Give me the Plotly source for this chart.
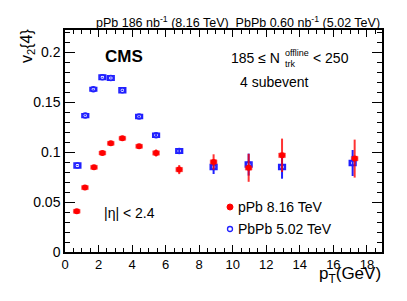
import plotly.graph_objects as go

# ---- data ----
ppb_pt = [0.70, 1.19, 1.73, 2.23, 2.73, 3.42, 4.42, 5.43, 6.81, 8.86, 10.95, 12.94, 17.27]
ppb_v2 = [0.0407, 0.0644, 0.0847, 0.0990, 0.1087, 0.1137, 0.1057, 0.0990, 0.0824, 0.0900, 0.0842, 0.0967, 0.0934]
ppb_stat = [0.0008, 0.0008, 0.0008, 0.0008, 0.0009, 0.0010, 0.0015, 0.0035, 0.0045, 0.0077, 0.0140, 0.0167, 0.0190]
ppb_sys = [0.0020, 0.0020, 0.0020, 0.0020, 0.0020, 0.0020, 0.0020, 0.0022, 0.0022, 0.0022, 0.0023, 0.0023, 0.0023]

pbpb_pt = [0.74, 1.21, 1.69, 2.23, 2.73, 3.42, 4.42, 5.43, 6.81, 8.86, 10.95, 12.94, 17.15]
pbpb_v2 = [0.0864, 0.1364, 0.1627, 0.1747, 0.1740, 0.1617, 0.1354, 0.1167, 0.1010, 0.0850, 0.0874, 0.0850, 0.0890]
pbpb_stat = [0.0005, 0.0005, 0.0005, 0.0005, 0.0006, 0.0008, 0.0010, 0.0012, 0.0020, 0.0070, 0.0110, 0.0117, 0.0130]
pbpb_sys = [0.0025, 0.0018, 0.0018, 0.0022, 0.0022, 0.0025, 0.0020, 0.0020, 0.0022, 0.0025, 0.0025, 0.0025, 0.0025]

box_width = 0.40
RED = "#ff0000"
BLUE = "#2020ff"
FONT = "Liberation Sans, Arial, sans-serif"

W, H = 407, 301
L, R, T, B = 65, 25, 30, 49
PW, PH = W - L - R, H - T - B


def px(x):
    return (x - L) / PW


def py(y):
    return (H - B - y) / PH


fig = go.Figure()

# systematic boxes
fig.add_trace(go.Bar(
    x=pbpb_pt, y=[2 * s for s in pbpb_sys], base=[v - s for v, s in zip(pbpb_v2, pbpb_sys)],
    width=box_width, marker=dict(color="rgba(0,0,0,0)", line=dict(color=BLUE, width=1.5)),
    showlegend=False, hoverinfo="skip"))
fig.add_trace(go.Bar(
    x=ppb_pt, y=[2 * s for s in ppb_sys], base=[v - s for v, s in zip(ppb_v2, ppb_sys)],
    width=box_width, marker=dict(color="rgba(255,40,40,0.75)", line=dict(color="rgba(255,0,0,0.8)", width=0.5)),
    showlegend=False, hoverinfo="skip"))

# points with stat errors
fig.add_trace(go.Scatter(
    x=pbpb_pt, y=pbpb_v2, mode="markers",
    marker=dict(symbol="circle-open", size=5, color=BLUE, line=dict(width=1.5)),
    error_y=dict(type="data", array=pbpb_stat, color=BLUE, thickness=2, width=0),
    showlegend=False))
fig.add_trace(go.Scatter(
    x=ppb_pt, y=ppb_v2, mode="markers",
    marker=dict(symbol="circle", size=6, color=RED),
    error_y=dict(type="data", array=ppb_stat, color="rgba(255,0,0,0.8)", thickness=2, width=0),
    showlegend=False))

axis_common = dict(showgrid=False, zeroline=False, showline=True, linecolor="black", linewidth=1.5,
                   ticks="inside", mirror="allticks", tickcolor="black", tickwidth=1, automargin=False)

fig.update_xaxes(range=[0, 18.9], dtick=2, tick0=0, ticklen=7,
                 minor=dict(dtick=0.5, ticklen=4, ticks="inside", tickcolor="black"),
                 tickfont=dict(size=13, family=FONT, color="black"), **axis_common)
fig.update_yaxes(range=[0, 0.222], dtick=0.05, tick0=0, ticklen=10,
                 minor=dict(dtick=0.01, ticklen=5, ticks="inside", tickcolor="black"),
                 tickfont=dict(size=14, family=FONT, color="black"), **axis_common)

ann = []


def text(x, y, s, size, xanchor="center", yanchor="middle", bold=False, angle=0):
    ann.append(dict(x=px(x), y=py(y), xref="paper", yref="paper", text=("<b>%s</b>" % s) if bold else s,
                    showarrow=False, xanchor=xanchor, yanchor=yanchor, textangle=angle,
                    font=dict(size=size, family=FONT, color="black")))


text(382, 22, "pPb 186 nb<sup>-1</sup> (8.16 TeV)\u00a0\u00a0PbPb 0.60 nb<sup>-1</sup> (5.02 TeV)", 12.5, xanchor="right")
text(124, 56, "CMS", 17, bold=True)
text(282, 58, "185 \u2264 N", 14, xanchor="right")
text(283, 53, "offline", 9, xanchor="left")
text(283, 64, "trk", 9, xanchor="left")
text(311, 58, "< 250", 14, xanchor="left")
text(274, 82, "4 subevent", 14)
text(129, 213, "|\u03b7| < 2.4", 14)
text(236, 207, "pPb 8.16 TeV", 14, xanchor="left")
text(236, 229, "PbPb 5.02 TeV", 14, xanchor="left")
text(27, 46, "v<sub>2</sub>{4}", 16, angle=-90)
text(383, 275, "p<sub>T</sub>(GeV)", 17, xanchor="right")

shapes = [
    dict(type="circle", xref="paper", yref="paper", xsizemode="pixel", ysizemode="pixel",
         xanchor=px(230), yanchor=py(207), x0=-3, x1=3, y0=-3, y1=3,
         fillcolor=RED, line=dict(color=RED, width=1)),
    dict(type="circle", xref="paper", yref="paper", xsizemode="pixel", ysizemode="pixel",
         xanchor=px(230), yanchor=py(229), x0=-2.5, x1=2.5, y0=-2.5, y1=2.5,
         fillcolor="rgba(0,0,0,0)", line=dict(color=BLUE, width=1.3)),
]

fig.update_layout(width=W, height=H, margin=dict(l=L, r=R, t=T, b=B, autoexpand=False),
                  paper_bgcolor="white", plot_bgcolor="white", barmode="overlay",
                  annotations=ann, shapes=shapes, showlegend=False,
                  font=dict(family=FONT, color="black"))

fig.write_html("out.html", config={"displayModeBar": False},
               post_script="document.body.style.margin='0px';document.body.style.padding='0px';")
